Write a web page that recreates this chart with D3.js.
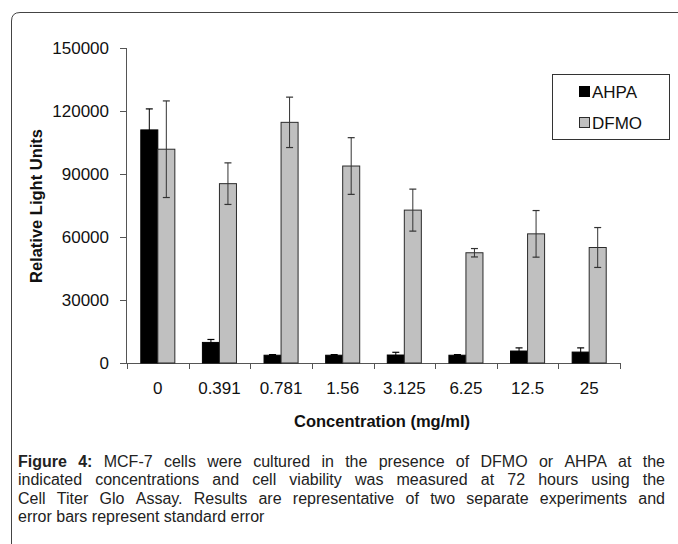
<!DOCTYPE html>
<html>
<head>
<meta charset="utf-8">
<script src="https://cdn.jsdelivr.net/npm/d3@7"></script>
<style>
  html, body { margin: 0; padding: 0; background: #fff; }
  svg { display: block; }
  text { font-family: "Liberation Sans", Arial, sans-serif; }
</style>
</head>
<body>
<svg id="chart" width="678" height="544"></svg>
<script>
const categories = ["0", "0.391", "0.781", "1.56", "3.125", "6.25", "12.5", "25"];
const seriesNames = ["AHPA", "DFMO"];
const ahpaValues = [111000, 9800, 3700, 3700, 3800, 3700, 5700, 5200];
const ahpaErrors = [10000, 1400, 300, 300, 1300, 300, 1500, 2000];
const dfmoValues = [101800, 85400, 114600, 93800, 72800, 52500, 61500, 55000];
const dfmoErrors = [23000, 9900, 12000, 13500, 10000, 2000, 11100, 9500];
const yTickValues = [0, 30000, 60000, 90000, 120000, 150000];
const xTitle = "Concentration (mg/ml)";
const yTitle = "Relative Light Units";
const captionBold = "Figure 4:";
const captionLines = [
  "MCF-7 cells were cultured in the presence of DFMO or AHPA at the",
  "indicated concentrations and cell viability was measured at 72 hours using the",
  "Cell Titer Glo Assay. Results are representative of two separate experiments and",
  "error bars represent standard error"
];

const svg = d3.select("#chart");

// outer frame (rounded top-left corner)
svg.append("path")
  .attr("d", "M11.5,544 L11.5,21 Q11.5,12.5 20,12.5 L678,12.5")
  .attr("fill", "none").attr("stroke", "#444").attr("stroke-width", 1);

const plot = { left: 127, right: 620, top: 48, bottom: 363 };

const x0 = d3.scaleBand().domain(categories).range([plot.left, plot.right]).padding(0);
const x1 = d3.scaleBand().domain(seriesNames).range([0, x0.bandwidth()])
  .paddingInner(0).paddingOuter(0.81);
const y = d3.scaleLinear().domain([0, 150000]).range([plot.bottom, plot.top]);

const data = categories.map((c, i) => ({
  cat: c,
  vals: [
    { s: "AHPA", v: ahpaValues[i], e: ahpaErrors[i] },
    { s: "DFMO", v: dfmoValues[i], e: dfmoErrors[i] }
  ]
}));
const fills = { AHPA: "#000000", DFMO: "#c0c0c0" };
const strokes = { AHPA: "#000000", DFMO: "#2b2b2b" };
const errCol = { AHPA: "#000000", DFMO: "#333333" };

// y axis
const yAxis = d3.axisLeft(y).tickValues(yTickValues).tickSize(7).tickPadding(11)
  .tickFormat(d3.format("d"));
const gy = svg.append("g").attr("transform", `translate(${plot.left},0)`).call(yAxis);
gy.select(".domain").attr("stroke", "#555").attr("d", `M-0.5,${plot.top}V${plot.bottom}`);
gy.selectAll(".tick line").attr("stroke", "#555");
gy.selectAll(".tick text").attr("font-size", 17).attr("fill", "#111")
  .attr("font-family", "Liberation Sans, Arial, sans-serif");

// x axis (labels at band centers, ticks at band boundaries)
const xAxis = d3.axisBottom(x0).tickSize(0).tickPadding(0);
const gx = svg.append("g").attr("transform", `translate(0,${plot.bottom})`).call(xAxis);
gx.select(".domain").attr("stroke", "#555").attr("d", `M${plot.left},0.5H${plot.right}`);
gx.selectAll(".tick text").attr("font-size", 17).attr("fill", "#111")
  .attr("y", 31).attr("dy", 0)
  .attr("font-family", "Liberation Sans, Arial, sans-serif");
const boundaries = categories.map(c => x0(c)).concat([x0(categories[categories.length - 1]) + x0.bandwidth()]);
gx.selectAll("line.bt").data(boundaries).enter().append("line")
  .attr("class", "bt")
  .attr("x1", d => Math.round(d) + 0.5).attr("x2", d => Math.round(d) + 0.5)
  .attr("y1", 0).attr("y2", 6).attr("stroke", "#555");

// bars
const groups = svg.append("g").selectAll("g").data(data).enter().append("g")
  .attr("transform", d => `translate(${x0(d.cat)},0)`);
groups.selectAll("rect").data(d => d.vals).enter().append("rect")
  .attr("x", d => x1(d.s))
  .attr("y", d => y(d.v))
  .attr("width", x1.bandwidth())
  .attr("height", d => y(0) - y(d.v))
  .attr("fill", d => fills[d.s])
  .attr("stroke", d => strokes[d.s])
  .attr("stroke-width", 1);

// error bars
const eb = groups.selectAll("g.err").data(d => d.vals).enter().append("g").attr("class", "err");
eb.append("line")
  .attr("x1", d => x1(d.s) + x1.bandwidth() / 2).attr("x2", d => x1(d.s) + x1.bandwidth() / 2)
  .attr("y1", d => y(d.v - d.e)).attr("y2", d => y(d.v + d.e))
  .attr("stroke", d => errCol[d.s]).attr("stroke-width", 1);
[-1, 1].forEach(sign => {
  eb.append("line")
    .attr("x1", d => x1(d.s) + x1.bandwidth() / 2 - 3.5).attr("x2", d => x1(d.s) + x1.bandwidth() / 2 + 3.5)
    .attr("y1", d => y(d.v + sign * d.e)).attr("y2", d => y(d.v + sign * d.e))
    .attr("stroke", d => errCol[d.s]).attr("stroke-width", 1.2);
});

// axis titles
svg.append("text").attr("x", 382).attr("y", 427).attr("text-anchor", "middle")
  .attr("font-size", 16.5).attr("font-weight", "bold").attr("fill", "#111").text(xTitle);
svg.append("text").attr("transform", "translate(42,206) rotate(-90)").attr("text-anchor", "middle")
  .attr("font-size", 16.5).attr("font-weight", "bold").attr("fill", "#111").text(yTitle);

// legend
const lg = svg.append("g");
lg.append("rect").attr("x", 552.5).attr("y", 74.5).attr("width", 117).attr("height", 65)
  .attr("fill", "#fff").attr("stroke", "#333");
seriesNames.forEach((s, i) => {
  const cy = 92 + i * 31;
  lg.append("rect").attr("x", 579.5).attr("y", cy - 5.5).attr("width", 10).attr("height", 10)
    .attr("fill", fills[s]).attr("stroke", strokes[s]);
  lg.append("text").attr("x", 592).attr("y", cy + 6).attr("font-size", 17).attr("fill", "#111").text(s);
});

// caption, justified by word spacing
const capX0 = 18, capX1 = 665;
const capSize = 16;
const baselines = [466.5, 485, 503.5, 522];
const cap = svg.append("g").attr("fill", "#222").attr("font-size", capSize);
function measure(str, bold) {
  const t = cap.append("text").attr("font-weight", bold ? "bold" : "normal").text(str);
  const w = t.node().getComputedTextLength();
  t.remove();
  return w;
}
const spaceW = measure("a a", false) - measure("aa", false);
captionLines.forEach((line, li) => {
  let words = line.split(" ").map(w => ({ w, bold: false }));
  if (li === 0) words = captionBold.split(" ").map(w => ({ w, bold: true })).concat(words);
  words.forEach(o => { o.width = measure(o.w, o.bold); });
  const total = d3.sum(words, o => o.width);
  const justify = li < captionLines.length - 1;
  const gap = justify ? (capX1 - capX0 - total) / (words.length - 1) : spaceW;
  let xx = capX0;
  const t = cap.append("text").attr("y", baselines[li]);
  words.forEach(o => {
    t.append("tspan").attr("x", xx).attr("font-weight", o.bold ? "bold" : "normal").text(o.w);
    xx += o.width + gap;
  });
});
</script>
</body>
</html>
